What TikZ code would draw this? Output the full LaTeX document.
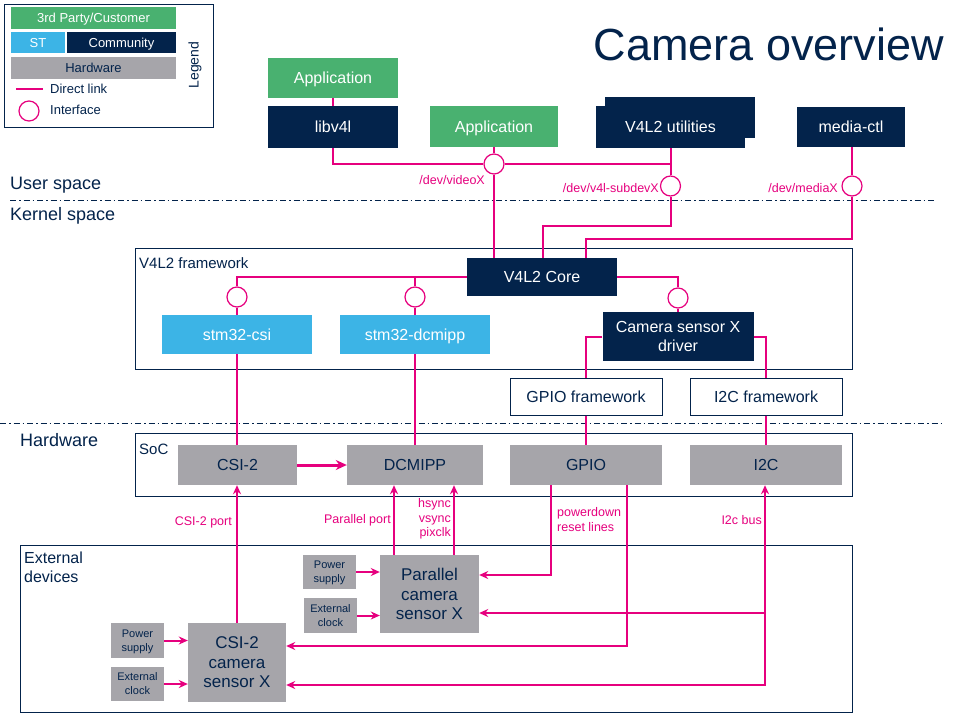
\documentclass[tikz,border=0pt]{standalone}
\usepackage{fontspec}
\setmainfont{Liberation Sans}
\usetikzlibrary{arrows.meta}
\definecolor{navy}{HTML}{03234B}
\definecolor{mag}{HTML}{E6007E}
\definecolor{stgreen}{HTML}{49B170}
\definecolor{stblue}{HTML}{3CB4E6}
\definecolor{hwgray}{HTML}{A6A5AA}
\newcommand\fsz[2]{\fontsize{#1}{#2}\selectfont}
\tikzset{
  base/.style={inner sep=0pt, align=center, text depth=0pt, font=\fsz{16}{19}},
  greenbox/.style={base, fill=stgreen, text=white},
  navybox/.style={base, fill=navy, text=white},
  bluebox/.style={base, fill=stblue, text=white},
  graybox/.style={base, fill=hwgray, text=navy},
  whitebox/.style={base, fill=white, draw=navy, line width=1pt, text=navy},
  smallgray/.style={graybox, font=\fsz{11}{14}},
  sensor/.style={graybox, font=\fsz{17}{19.5}},
  frame/.style={draw=navy, line width=1pt},
  iface/.style={circle, draw=mag, fill=white, line width=1.2pt, minimum size=20pt, inner sep=0pt},
  link/.style={draw=mag, line width=2pt},
  arr/.style={link, -{Stealth[length=9pt,width=8pt]}},
  lbl/.style={text=mag, inner sep=0pt, font=\fsz{12.5}{14.5}},
  region/.style={text=navy, inner sep=0pt, anchor=west, text depth=0pt, font=\fsz{18}{20}},
  sep/.style={draw=navy, line width=1pt, dash pattern=on 6pt off 3pt on 1.5pt off 3pt},
}
\begin{document}
\begin{tikzpicture}[x=1pt,y=-1pt]
\useasboundingbox[fill=white] (0,0) rectangle (960,720);

% Legend
\draw[frame] (4,4) rectangle (213,127);
\node[greenbox, font=\fsz{13}{15}, minimum width=165pt, minimum height=22pt] (lg) at (93.5,18) {3rd Party/Customer};
\node[bluebox, font=\fsz{13}{15}, minimum width=54pt, minimum height=21pt] (lst) at (38,42.5) {ST};
\node[navybox, font=\fsz{13}{15}, minimum width=109pt, minimum height=21pt] (lcom) at (121.5,42.5) {Community};
\node[graybox, font=\fsz{13}{15}, minimum width=165pt, minimum height=22pt] (lhw) at (93.5,68) {Hardware};
\coordinate (ll1) at (16,89);
\coordinate (ll2) at (43,89);
\draw[link] (ll1) -- (ll2);
\node[text=navy, anchor=west, inner sep=0pt, text depth=0pt, font=\fsz{13}{15}] (ldl) at (50,89) {Direct link};
\node[iface] (lci) at (29,111) {};
\node[text=navy, anchor=west, inner sep=0pt, text depth=0pt, font=\fsz{13}{15}] (lif) at (50,110) {Interface};
\node[text=navy, rotate=90, inner sep=0pt, font=\fsz{14}{16}] (lleg) at (195,65) {Legend};

% Title
\node[text=navy, anchor=east, inner sep=0pt, font=\fsz{45}{50}] (title) at (944,44) {Camera overview};

% Separators and region labels
\coordinate (s1a) at (10,200);
\coordinate (s1b) at (935,200);
\draw[sep] (s1a) -- (s1b);
\coordinate (s2a) at (0,423);
\coordinate (s2b) at (945,423);
\draw[sep] (s2a) -- (s2b);
\node[region] (us) at (10,183) {User space};
\node[region] (ks) at (10,214) {Kernel space};
\node[region] (hwl) at (20,440) {Hardware};

% User space boxes
\node[greenbox, minimum width=130pt, minimum height=40pt] (app1) at (333,78) {Application};
\node[navybox, minimum width=130pt, minimum height=42pt] (lib) at (333,127) {libv4l};
\node[greenbox, minimum width=128pt, minimum height=41pt] (app2) at (494,126.5) {Application};
\node[navybox, minimum width=150pt, minimum height=41pt] (utilsb) at (680,117.5) {};
\node[navybox, minimum width=149pt, minimum height=42pt] (utils) at (670.5,127) {V4L2 utilities};
\node[navybox, minimum width=108pt, minimum height=40pt] (mctl) at (851,127) {media-ctl};

% interfaces (user/kernel)
\node[iface] (cvid) at (494,164) {};
\node[iface] (csub) at (670.5,186) {};
\node[iface] (cmed) at (852,186) {};
\node[lbl, anchor=east] (lvid) at (485,180) {/dev/videoX};
\node[lbl, anchor=east] (lsub) at (659,188) {/dev/v4l-subdevX};
\node[lbl, anchor=east] (lmed) at (838,188) {/dev/mediaX};

% V4L2 framework
\draw[frame] (135,248) rectangle (852,369);
\node[text=navy, anchor=west, inner sep=0pt, text depth=0pt, font=\fsz{15}{17}] (fwl) at (139,263) {V4L2 framework};
\node[navybox, minimum width=150pt, minimum height=38pt] (core) at (542,277) {V4L2 Core};
\node[bluebox, minimum width=150pt, minimum height=39pt] (scsi) at (237,334.5) {stm32-csi};
\node[bluebox, minimum width=150pt, minimum height=39pt] (sdcm) at (415,334.5) {stm32-dcmipp};
\node[navybox, minimum width=151pt, minimum height=49pt] (drv) at (678,336.5) {Camera sensor X\\driver};
\node[iface] (ccsi) at (237,297) {};
\node[iface] (cdcm) at (415,297) {};
\node[iface] (ccam) at (678,298) {};
\node[whitebox, minimum width=152pt, minimum height=37pt] (gfw) at (586,396.5) {GPIO framework};
\node[whitebox, minimum width=152pt, minimum height=37pt] (ifw) at (766,396.5) {I2C framework};

% SoC
\draw[frame] (135,433) rectangle (852,496);
\node[text=navy, anchor=west, inner sep=0pt, text depth=0pt, font=\fsz{15}{17}] (socl) at (139,449) {SoC};
\node[graybox, minimum width=119pt, minimum height=40pt] (csi2) at (237.5,465) {CSI-2};
\node[graybox, minimum width=136pt, minimum height=40pt] (dcmipp) at (415,465) {DCMIPP};
\node[graybox, minimum width=152pt, minimum height=40pt] (gpio) at (586,465) {GPIO};
\node[graybox, minimum width=152pt, minimum height=40pt] (i2c) at (766,465) {I2C};

% External devices
\draw[frame] (20,545) rectangle (852,712);
\node[text=navy, anchor=north west, align=left, inner sep=0pt, font=\fsz{16}{19}] (extl) at (24,552) {External\\devices};
\node[smallgray, minimum width=53pt, minimum height=34pt] (ps1) at (329.5,572) {Power\\supply};
\node[smallgray, minimum width=53pt, minimum height=35pt] (ec1) at (330.5,615.5) {External\\clock};
\node[sensor, minimum width=99pt, minimum height=78pt] (psens) at (429.5,594) {Parallel\\camera\\sensor X};
\node[smallgray, minimum width=53pt, minimum height=35pt] (ps2) at (137.5,640.5) {Power\\supply};
\node[smallgray, minimum width=53pt, minimum height=34pt] (ec2) at (137.5,684) {External\\clock};
\node[sensor, minimum width=98pt, minimum height=79pt] (csens) at (237,662.5) {CSI-2\\camera\\sensor X};

% Links: user space
\draw[link] (app1.south) -- (lib.north);
\draw[link] (lib.south) |- (cvid.west);
\draw[link] (app2.south) -- (cvid.north);
\draw[link] (cvid.east) -| (utils.south);
\draw[link] (utils.south) -- (csub.north);
\draw[link] (mctl.south -| cmed) -- (cmed.north);
\coordinate (k1) at (543,226);
\coordinate (k2) at (586,239);
\draw[link] (cvid.south) -- (cvid.south |- core.north);
\draw[link] (csub.south) |- (k1) -- (k1 |- core.north);
\draw[link] (cmed.south) |- (k2) -- (k2 |- core.north);

% Links: framework
\draw[link] (core.west) -| (ccsi.north);
\draw[link] (core.west -| cdcm.north) -- (cdcm.north);
\draw[link] (core.east) -| (ccam.north);
\draw[link] (ccsi.south) -- (scsi.north);
\draw[link] (cdcm.south) -- (sdcm.north);
\draw[link] (ccam.south) -- (ccam.south |- drv.north);
\draw[link] (drv.west) -| (gfw.north);
\draw[link] (drv.east) -| (ifw.north);

% Links: to hardware
\draw[link] (scsi.south) -- (scsi.south |- csi2.north);
\draw[link] (sdcm.south) -- (dcmipp.north);
\draw[link] (gfw.south) -- (gpio.north);
\draw[link] (ifw.south) -- (i2c.north);
\draw[link, line width=3pt, -{Stealth[length=11pt,width=10pt]}] (csi2.east) -- (dcmipp.west);

% Links: external
\draw[arr] (csens.north) -- (csens.north |- csi2.south);
\coordinate (pp1) at ([xshift=-35.5pt]psens.north);
\coordinate (pp2) at ([xshift=24.5pt]psens.north);
\draw[arr] (pp1) -- (pp1 |- dcmipp.south);
\draw[arr] (pp2) -- (pp2 |- dcmipp.south);
\coordinate (g1) at ([xshift=-35pt]gpio.south);
\coordinate (g2) at ([xshift=41pt]gpio.south);
\coordinate (pe1) at ([yshift=19pt]psens.east);
\coordinate (pe2) at ([yshift=-19pt]psens.east);
\coordinate (ce1) at ([yshift=16.5pt]csens.east);
\coordinate (ce2) at ([yshift=-22.5pt]csens.east);
\coordinate (ib) at ([xshift=-1pt]i2c.south);
\draw[arr] (g1) |- (pe1);
\draw[arr] (g2) |- (ce1);
\draw[link, {Stealth[length=9pt,width=8pt]}-{Stealth[length=9pt,width=8pt]}] (ib) |- (ce2);
\draw[arr] (pe2 -| ib) -- (pe2);
\draw[arr] (ps1.east) -- (ps1.east -| psens.west);
\draw[arr] (ec1.east) -- (ec1.east -| psens.west);
\draw[arr] (ps2.east) -- (ps2.east -| csens.west);
\draw[arr] (ec2.east) -- (ec2.east -| csens.west);

% Labels
\node[lbl, anchor=east] (lcp) at (232,522) {CSI-2 port};
\node[lbl, anchor=east] (lpp) at (391,520) {Parallel port};
\node[lbl, anchor=east, align=right] (lhs) at (451,519) {hsync\\vsync\\pixclk};
\node[lbl, anchor=west, align=left] (lpd) at (557,519.5) {powerdown\\reset lines};
\node[lbl, anchor=east] (lib2) at (762,520) {I2c bus};
\end{tikzpicture}
\end{document}
